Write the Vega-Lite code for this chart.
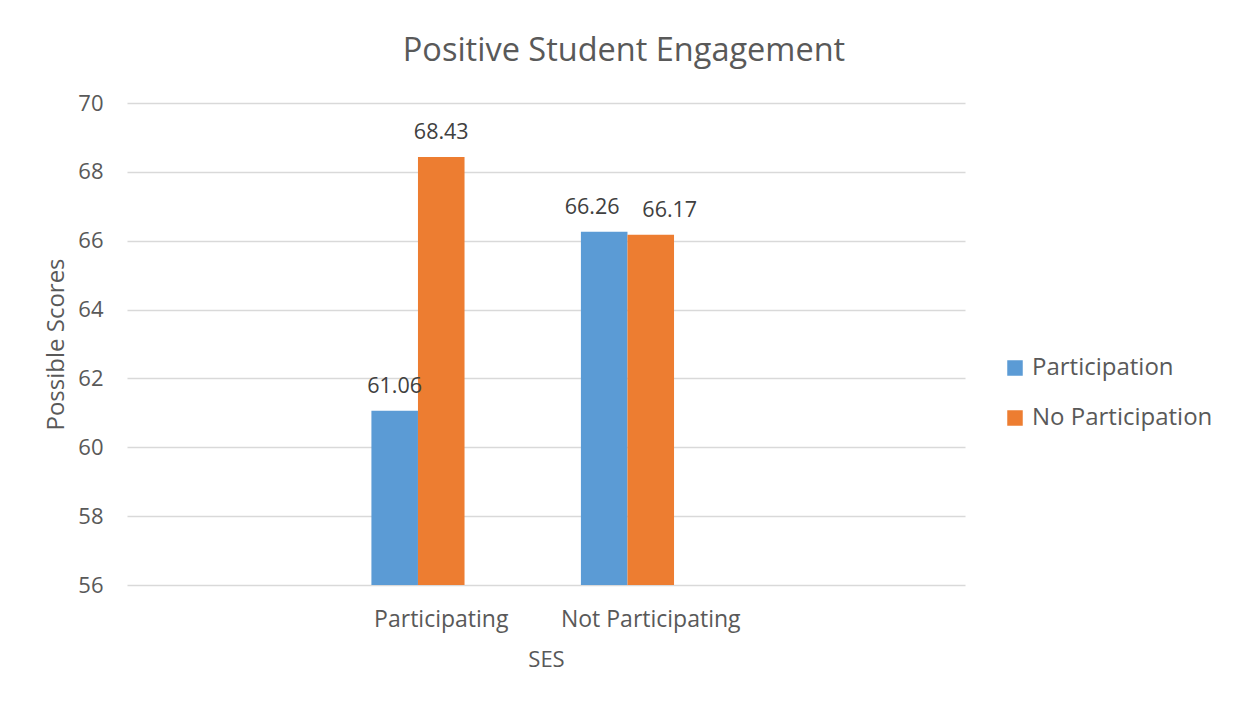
{
  "$schema": "https://vega.github.io/schema/vega-lite/v6.json",
  "width": 838,
  "height": 482,
  "autosize": {"type": "none"},
  "padding": {"left": 127, "top": 103, "right": 277, "bottom": 122},
  "background": "white",
  "config": {"view": {"stroke": null}},
  "title": {
    "text": "Positive Student Engagement",
    "anchor": "middle",
    "frame": "group",
    "dx": 78,
    "offset": 25,
    "fontSize": 32.5,
    "font": "Open Sans",
    "fontWeight": "normal",
    "color": "#595959"
  },
  "data": {
    "values": [
      {"ses": "Participating", "series": "Participation", "score": 61.06},
      {"ses": "Participating", "series": "No Participation", "score": 68.43},
      {"ses": "Not Participating", "series": "Participation", "score": 66.26},
      {"ses": "Not Participating", "series": "No Participation", "score": 66.17}
    ]
  },
  "encoding": {
    "x": {
      "field": "ses",
      "type": "nominal",
      "scale": {"domain": [" ", "Participating", "Not Participating", "  "], "paddingInner": 0, "paddingOuter": 0},
      "axis": {
        "title": "SES",
        "labelAngle": 0,
        "domain": false,
        "ticks": false,
        "labelPadding": 23,
        "titlePadding": 18,
        "labelFontSize": 23,
        "titleFontSize": 22,
        "labelFont": "Open Sans",
        "titleFont": "Open Sans",
        "labelColor": "#595959",
        "titleColor": "#595959",
        "titleFontWeight": "normal",
        "labelLimit": 400
      }
    },
    "xOffset": {
      "field": "series",
      "type": "nominal",
      "scale": {"domain": ["Participation", "No Participation", "blank"], "paddingInner": 0, "paddingOuter": 0.75}
    },
    "y": {
      "field": "score",
      "type": "quantitative",
      "scale": {"domain": [56, 70], "nice": false, "zero": false},
      "axis": {
        "title": "Possible Scores",
        "values": [56, 58, 60, 62, 64, 66, 68, 70],
        "domain": false,
        "ticks": false,
        "labelPadding": 24,
        "titlePadding": 9,
        "gridColor": "#d9d9d9",
        "gridWidth": 1.5,
        "labelFontSize": 22,
        "titleFontSize": 24,
        "labelFont": "Open Sans",
        "titleFont": "Open Sans",
        "labelColor": "#595959",
        "titleColor": "#595959",
        "titleFontWeight": "normal"
      }
    }
  },
  "layer": [
    {
      "mark": {"type": "bar", "clip": true},
      "encoding": {
        "y2": {"datum": 56},
        "color": {
          "field": "series",
          "type": "nominal",
          "scale": {"domain": ["Participation", "No Participation"], "range": ["#5B9BD5", "#ED7D31"]},
          "legend": {
            "title": null,
            "orient": "none",
            "legendX": 876,
            "legendY": 253,
            "symbolType": "square",
            "symbolSize": 240,
            "symbolStrokeWidth": 0,
            "labelFontSize": 24,
            "labelFont": "Open Sans",
            "labelColor": "#595959",
            "labelLimit": 400,
            "rowPadding": 26,
            "labelOffset": 5
          }
        }
      }
    },
    {
      "transform": [{"filter": "datum.ses === 'Participating'"}],
      "mark": {"type": "text", "baseline": "alphabetic", "dy": -18, "fontSize": 21.5, "font": "Open Sans", "color": "#404040"},
      "encoding": {
        "text": {"field": "score", "type": "quantitative", "format": ".2f"}
      }
    },
    {
      "transform": [{"filter": "datum.ses === 'Not Participating' && datum.series === 'Participation'"}],
      "mark": {"type": "text", "baseline": "alphabetic", "dy": -18, "dx": -12, "fontSize": 21.5, "font": "Open Sans", "color": "#404040"},
      "encoding": {
        "text": {"field": "score", "type": "quantitative", "format": ".2f"}
      }
    },
    {
      "transform": [{"filter": "datum.ses === 'Not Participating' && datum.series === 'No Participation'"}],
      "mark": {"type": "text", "baseline": "alphabetic", "dy": -18, "dx": 19, "fontSize": 21.5, "font": "Open Sans", "color": "#404040"},
      "encoding": {
        "text": {"field": "score", "type": "quantitative", "format": ".2f"}
      }
    }
  ]
}
